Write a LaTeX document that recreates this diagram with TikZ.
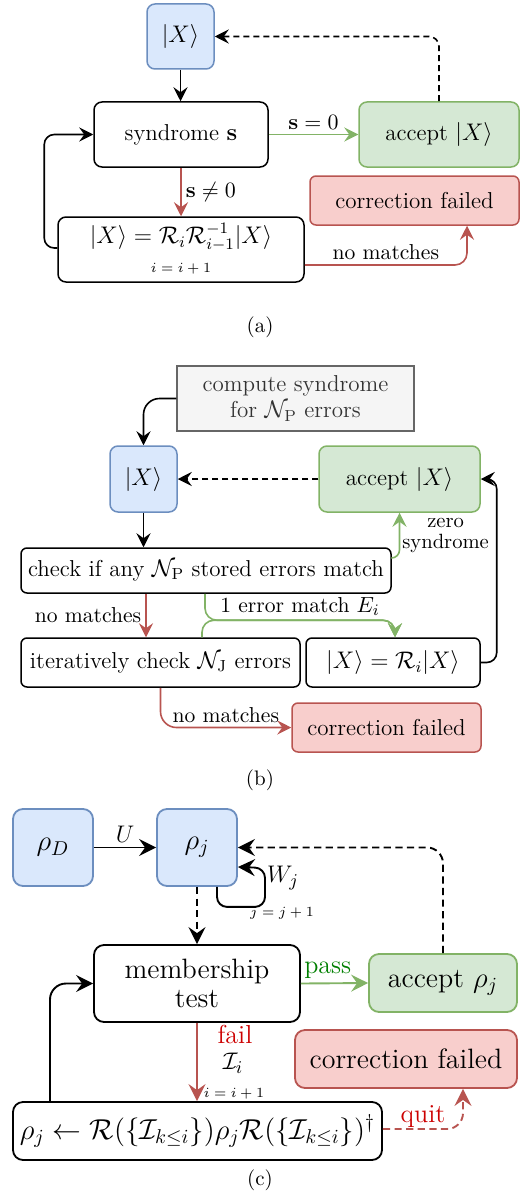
\documentclass[tikz,border=0pt]{standalone}
\usetikzlibrary{arrows.meta}
\definecolor{bfill}{HTML}{DAE8FC}\definecolor{bdraw}{HTML}{6C8EBF}
\definecolor{gfill}{HTML}{D5E8D4}\definecolor{gdraw}{HTML}{82B366}
\definecolor{rfill}{HTML}{F8CECC}\definecolor{rdraw}{HTML}{B85450}
\definecolor{kfill}{HTML}{F5F5F5}\definecolor{kdraw}{HTML}{666666}\definecolor{ktext}{HTML}{333333}
\definecolor{passgreen}{HTML}{007F00}\definecolor{failred}{HTML}{CC0000}
\newcommand\fsa{\fontsize{11.5}{13.8}\selectfont}
\newcommand\fsl{\fontsize{10.8}{13}\selectfont}
\newcommand\fsz{\fontsize{10.3}{11.5}\selectfont}
\newcommand\fsc{\fontsize{14}{16.5}\selectfont}
\newcommand\fscl{\fontsize{13}{15}\selectfont}
\newcommand\fsi{\fontsize{7}{8}\selectfont}
\newcommand\fscap{\fontsize{10.5}{12}\selectfont}
\tikzset{
  box/.style={draw, line width=0.75pt, rounded corners=4pt, inner sep=1pt, align=center, font=\fsa},
  whitebox/.style={box, fill=white},
  bluebox/.style={box, fill=bfill, draw=bdraw},
  greenbox/.style={box, fill=gfill, draw=gdraw},
  redbox/.style={box, fill=rfill, draw=rdraw},
  graybox/.style={box, rounded corners=0pt, fill=kfill, draw=kdraw, text=ktext},
  cbox/.style={line width=0.9pt, rounded corners=5pt, font=\fsc},
  plain/.style={inner sep=1pt, align=center},
  arr/.style={-{Stealth[length=7pt,width=7pt,inset=2.5pt]}, line width=0.8pt},
  arrc/.style={-{Stealth[length=8.5pt,width=8.5pt,inset=3pt]}, line width=0.95pt},
  dsh/.style={dash pattern=on 3pt off 2pt},
  dshc/.style={dash pattern=on 3.6pt off 2.2pt},
  gline/.style={draw=gdraw},
  rline/.style={draw=rdraw},
  lab/.style={inner sep=2pt, font=\fsl},
  labc/.style={inner sep=2pt, font=\fscl},
}
\begin{document}
\begin{tikzpicture}[x=0.5pt,y=-0.5pt]
\useasboundingbox (0,0) rectangle (520,1193);
% ---------------- (a)
\node[bluebox, minimum width=33.5pt, minimum height=32.5pt] (xa) at (180.5,36.5) {$|X\rangle$};
\node[whitebox, minimum width=87pt, minimum height=32.5pt] (syn) at (181,134.5) {syndrome $\mathbf{s}$};
\node[greenbox, minimum width=80pt, minimum height=32.5pt] (acc) at (439,134.5) {accept $|X\rangle$};
\node[redbox, rounded corners=3pt, minimum width=104.5pt, minimum height=24.5pt] (fail) at (414.5,200.5) {correction failed};
\node[whitebox, minimum width=123pt, minimum height=32.5pt] (upd) at (181,249.5) {};
\node[plain, font=\fsa] (updtxt) at (181,237) {$|X\rangle = \mathcal{R}_i\mathcal{R}_{i-1}^{-1}|X\rangle$};
\node[plain, font=\fsi] (updidx) at (181,269) {$i=i+1$};
\draw[arr] (xa.south) -- (xa.south |- syn.north);
\draw[arr, gline] (syn.east) -- node[lab, above] {$\mathbf{s}=0$} (acc.west);
\draw[arr, rline] (syn.south) -- node[lab, right] {$\mathbf{s}\neq 0$} (syn.south |- upd.north);
\draw[arr, rounded corners=5pt] ([shift={(0,-1.5)}]upd.west) -- ++(-13,0) |- (syn.west);
\draw[arr, dsh, rounded corners=5pt] (acc.north) |- (xa.east);
\draw[arr, rline, rounded corners=6pt] ([shift={(0,15.5)}]upd.east) -| node[lab, above, pos=0.25] {no matches} ([shift={(52.5,0)}]fail.south);
\node[plain, font=\fscap] (capa) at (260,327) {(a)};
% ---------------- (b)
\node[graybox, minimum width=118.5pt, minimum height=32.5pt] (comp) at (295.5,398.5) {compute syndrome\\[-1pt]for $\mathcal{N}_\mathrm{P}$ errors};
\node[bluebox, minimum width=33.5pt, minimum height=33pt] (xb) at (143.5,479) {$|X\rangle$};
\node[greenbox, minimum width=80.5pt, minimum height=33pt] (accb) at (399.5,479) {accept $|X\rangle$};
\node[whitebox, rounded corners=3pt, minimum width=185pt, minimum height=22.5pt] (check) at (206,570.5) {check if any $\mathcal{N}_\mathrm{P}$ stored errors match};
\node[whitebox, rounded corners=3pt, minimum width=139.5pt, minimum height=24.5pt] (iter) at (160.5,662.5) {iteratively check $\mathcal{N}_\mathrm{J}$ errors};
\node[whitebox, rounded corners=3pt, minimum width=87pt, minimum height=24.5pt] (rb) at (393,662.5) {$|X\rangle = \mathcal{R}_i|X\rangle$};
\node[redbox, rounded corners=3pt, minimum width=94.5pt, minimum height=24.5pt] (failb) at (386.5,727.5) {correction failed};
\draw[arr, rounded corners=8pt] (comp.west) -| (xb.north);
\draw[arr] (xb.south) -- (xb.south |- check.north);
\draw[arr, dsh] (accb.west) -- (xb.east);
\draw[arr, gline, rounded corners=4pt] ([shift={(0,-12.5)}]check.east) -| node[pos=0.75, right, align=center, font=\fsz, inner sep=1pt] {zero\\[-1pt]syndrome} (accb.south);
\coordinate (b1) at ([shift={(-60,0)}]check.south);
\draw[arr, rline] (b1) -- node[lab, left] {no matches} (b1 |- iter.north);
\coordinate (b2) at ([shift={(-1,0)}]check.south);
\draw[arr, gline, rounded corners=6pt] (b2) |- node[lab, above, pos=0.75] {1 error match $E_i$} ([shift={(2,-17)}]rb.north) -- ([shift={(2,0)}]rb.north);
\draw[arr, gline, rounded corners=6pt] ([shift={(41.5,0)}]iter.north) |- ([shift={(2,-17)}]rb.north) -- ([shift={(2,0)}]rb.north);
\draw[arr, rounded corners=5pt] (rb.east) -- ++(16,0) |- (accb.east);
\draw[arr, rline, rounded corners=8pt] (iter.south) |- node[lab, above, pos=0.75] {no matches} (failb.west);
\node[plain, font=\fscap] (capb) at (260,780) {(b)};
% ---------------- (c)
\node[bluebox, cbox, minimum width=40pt, minimum height=38.5pt] (rd) at (53,847.5) {$\rho_D$};
\node[bluebox, cbox, minimum width=40pt, minimum height=38.5pt] (rj) at (197,847.5) {$\rho_j$};
\node[whitebox, cbox, minimum width=103pt, minimum height=38.5pt] (mem) at (197,983.5) {membership\\[-2pt]test};
\node[greenbox, cbox, minimum width=74pt, minimum height=29pt] (accc) at (443,983) {accept $\rho_j$};
\node[redbox, cbox, minimum width=111pt, minimum height=29pt] (failc) at (406,1059) {correction failed};
\node[whitebox, cbox, minimum width=184.5pt, minimum height=29pt] (bot) at (197.5,1131) {$\rho_j \leftarrow \mathcal{R}(\{\mathcal{I}_{k\leq i}\})\rho_j\mathcal{R}(\{\mathcal{I}_{k\leq i}\})^\dagger$};
\draw[arrc] (rd.east) -- node[labc, above] {$U$} (rj.west);
\draw[arrc, dshc] (rj.south) -- (rj.south |- mem.north);
\draw[arrc, rounded corners=5pt] ([shift={(20,0)}]rj.south) -- ++(0,20) -- ++(48,0) -- ++(0,-39) -- ([shift={(0,19.5)}]rj.east);
\node[plain, font=\fscl] (wj) at (283,878) {$W_j$};
\node[plain, font=\fsi] (jj) at (282,913) {$j=j+1$};
\draw[arrc, dshc, rounded corners=8pt] (accc.north) |- (rj.east);
\draw[arrc, gline] (mem.east) -- node[labc, above, pos=0.4, text=passgreen] {pass} (accc.west);
\draw[arrc, rline] (mem.south) -- (mem.south |- bot.north);
\node[plain, font=\fscl, text=failred] (failt) at (235,1034) {fail};
\node[plain, font=\fscl] (ii) at (233,1063) {$\mathcal{I}_i$};
\node[plain, font=\fsi] (iidx) at (234,1094) {$i=i+1$};
\draw[arrc, rounded corners=8pt] ([shift={(-147.5,0)}]bot.north) |- (mem.west);
\draw[arrc, rline, dshc, rounded corners=8pt] ([shift={(0,-2)}]bot.east) -| node[labc, above, pos=0.25, inner sep=0.5pt, text=failred] {quit} ([shift={(57,0)}]failc.south);
\node[plain, font=\fscap] (capc) at (260,1180) {(c)};
\end{tikzpicture}
\end{document}
